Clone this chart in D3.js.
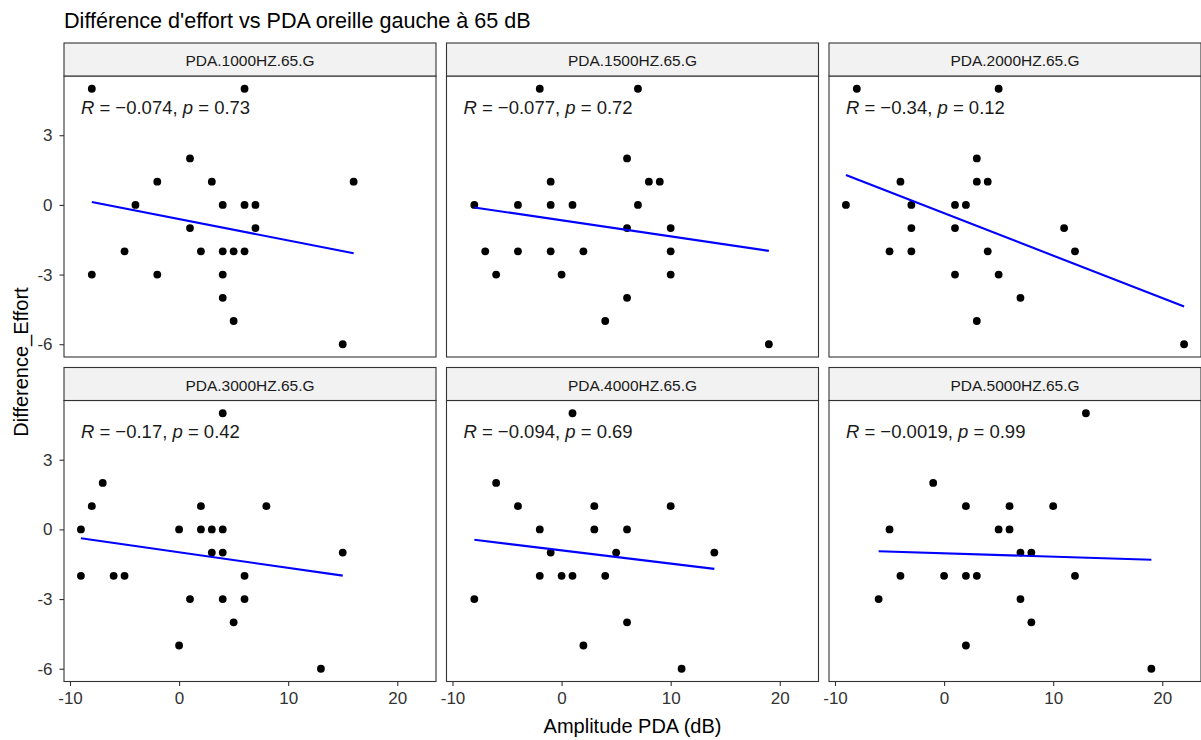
<!DOCTYPE html>
<html><head><meta charset="utf-8">
<script src="https://cdn.jsdelivr.net/npm/d3@7"></script>
<style>body{margin:0;background:#fff} text{font-family:"Liberation Sans",Arial,sans-serif}</style>
</head><body><svg id="c" width="1201" height="740"></svg>
<script>
const titleText = "Différence d'effort vs PDA oreille gauche à 65 dB";
const xTitle = "Amplitude PDA (dB)";
const yTitle = "Difference_Effort";
const panelNames = ["PDA.1000HZ.65.G","PDA.1500HZ.65.G","PDA.2000HZ.65.G","PDA.3000HZ.65.G","PDA.4000HZ.65.G","PDA.5000HZ.65.G"];
const corrR = ["−0.074","−0.077","−0.34","−0.17","−0.094","−0.0019"];
const corrP = ["0.73","0.72","0.12","0.42","0.69","0.99"];
const xTicks = [-10,0,10,20];
const yTicks = [-6,-3,0,3];

const x1000 = [-8,6,1,-2,3,16,-4,4,6,7,1,7,-5,2,4,5,6,-8,-2,4,4,5,15];
const y1000 = [5,5,2,1,1,1,0,0,0,0,-1,-1,-2,-2,-2,-2,-2,-3,-3,-3,-4,-5,-6];
const x1500 = [-2,7,6,-1,8,9,-8,-4,-1,1,7,6,10,-7,-4,-1,2,10,-6,0,10,6,4,19];
const y1500 = [5,5,2,1,1,1,0,0,0,0,0,-1,-1,-2,-2,-2,-2,-2,-3,-3,-3,-4,-5,-6];
const x2000 = [-8,5,3,-4,3,4,-9,-3,1,2,-3,1,11,-5,-3,4,12,1,5,7,3,22];
const y2000 = [5,5,2,1,1,1,0,0,0,0,-1,-1,-1,-2,-2,-2,-2,-3,-3,-4,-5,-6];
const x3000 = [4,-7,-8,2,8,-9,0,2,3,4,3,4,15,-9,-6,-5,6,1,4,6,5,0,13];
const y3000 = [5,2,1,1,1,0,0,0,0,0,-1,-1,-1,-2,-2,-2,-2,-3,-3,-3,-4,-5,-6];
const x4000 = [1,-6,-4,3,10,-2,3,6,-1,5,14,-2,0,1,4,-8,6,2,11];
const y4000 = [5,2,1,1,1,0,0,0,-1,-1,-1,-2,-2,-2,-2,-3,-4,-5,-6];
const x5000 = [13,-1,2,6,10,-5,5,6,7,8,-4,0,2,3,12,-6,7,8,2,19];
const y5000 = [5,2,1,1,1,0,0,0,-1,-1,-2,-2,-2,-2,-2,-3,-3,-4,-5,-6];

// linear fit (slope, intercept)
const fitSlope = [-0.0917,-0.0693,-0.1829,-0.0671,-0.0568,-0.0148];
const fitIntercept = [-0.613,-0.664,-0.356,-0.984,-0.904,-1.029];

const panelX = [x1000,x1500,x2000,x3000,x4000,x5000];
const panelY = [y1000,y1500,y2000,y3000,y4000,y5000];

const svg = d3.select("#c");
const left = 64, panelW = 372, colStep = 382.5;
const stripTop = [43, 367.5], stripH = 33, panelH = 281;
const FONT = '"Liberation Sans",Arial,sans-serif';

const x = d3.scaleLinear().domain([-10.55, 23.55]).range([0, panelW]);
const y = d3.scaleLinear().domain([-6.55, 5.55]).range([panelH, 0]);

svg.append("text").attr("x", 64).attr("y", 28).attr("font-size", 21.6).attr("fill", "#000").text(titleText);

panelNames.forEach((name, i) => {
  const col = i % 3, row = Math.floor(i / 3);
  const px = left + col * colStep;
  const sy = stripTop[row];
  const py = sy + stripH;
  const g = svg.append("g").attr("transform", `translate(${px},${py})`);
  g.append("rect").attr("width", panelW).attr("height", panelH).attr("fill", "#fff");
  svg.append("rect").attr("x", px).attr("y", sy).attr("width", panelW).attr("height", stripH)
    .attr("fill", "#f2f2f2").attr("stroke", "#333").attr("stroke-width", 1.1);
  svg.append("text").attr("x", px + panelW / 2).attr("y", sy + 23).attr("text-anchor", "middle")
    .attr("font-size", 15.5).attr("fill", "#1a1a1a").text(name);

  const xs = panelX[i], ys = panelY[i];
  const pts = xs.map((v, k) => [v, ys[k]]);
  g.selectAll("circle").data(pts).enter().append("circle")
    .attr("cx", d => x(d[0])).attr("cy", d => y(d[1])).attr("r", 3.9).attr("fill", "#000");

  const [xmin, xmax] = d3.extent(xs);
  const line = d3.line().x(d => x(d)).y(d => y(fitIntercept[i] + fitSlope[i] * d));
  g.append("path").datum([xmin, xmax]).attr("d", line).attr("stroke", "#0000ff")
    .attr("stroke-width", 2.1).attr("fill", "none");

  const t = g.append("text").attr("x", x(-9)).attr("y", 37.5).attr("font-size", 18.5).attr("fill", "#1a1a1a");
  t.append("tspan").attr("font-style", "italic").text("R");
  t.append("tspan").text(" = " + corrR[i] + ", ");
  t.append("tspan").attr("font-style", "italic").text("p");
  t.append("tspan").text(" = " + corrP[i]);

  g.append("rect").attr("width", panelW).attr("height", panelH).attr("fill", "none")
    .attr("stroke", "#333").attr("stroke-width", 1.1);

  if (col === 0) {
    const ay = g.append("g").call(d3.axisLeft(y).tickValues(yTicks).tickSize(4.5).tickPadding(7).tickFormat(d3.format("d")));
    ay.select(".domain").remove();
    ay.selectAll("line").attr("stroke", "#333").attr("stroke-width", 1.1);
    ay.selectAll("text").attr("font-size", 17).attr("fill", "#333").style("font-family", FONT);
  }
  if (row === 1) {
    const ax = g.append("g").attr("transform", `translate(0,${panelH})`)
      .call(d3.axisBottom(x).tickValues(xTicks).tickSize(4.5).tickPadding(5.5).tickFormat(d3.format("d")));
    ax.select(".domain").remove();
    ax.selectAll("line").attr("stroke", "#333").attr("stroke-width", 1.1);
    ax.selectAll("text").attr("font-size", 17).attr("fill", "#333").style("font-family", FONT);
  }
});

// plain hyphen in tick labels, as in the reference
svg.selectAll(".tick text").text(function(){ return this.textContent.replace("−", "-"); });

svg.append("text").attr("x", 632.5).attr("y", 733).attr("text-anchor", "middle")
  .attr("font-size", 20).attr("fill", "#000").text(xTitle);
svg.append("text").attr("transform", "translate(28,362) rotate(-90)").attr("text-anchor", "middle")
  .attr("font-size", 20).attr("fill", "#000").text(yTitle);
</script></body></html>
